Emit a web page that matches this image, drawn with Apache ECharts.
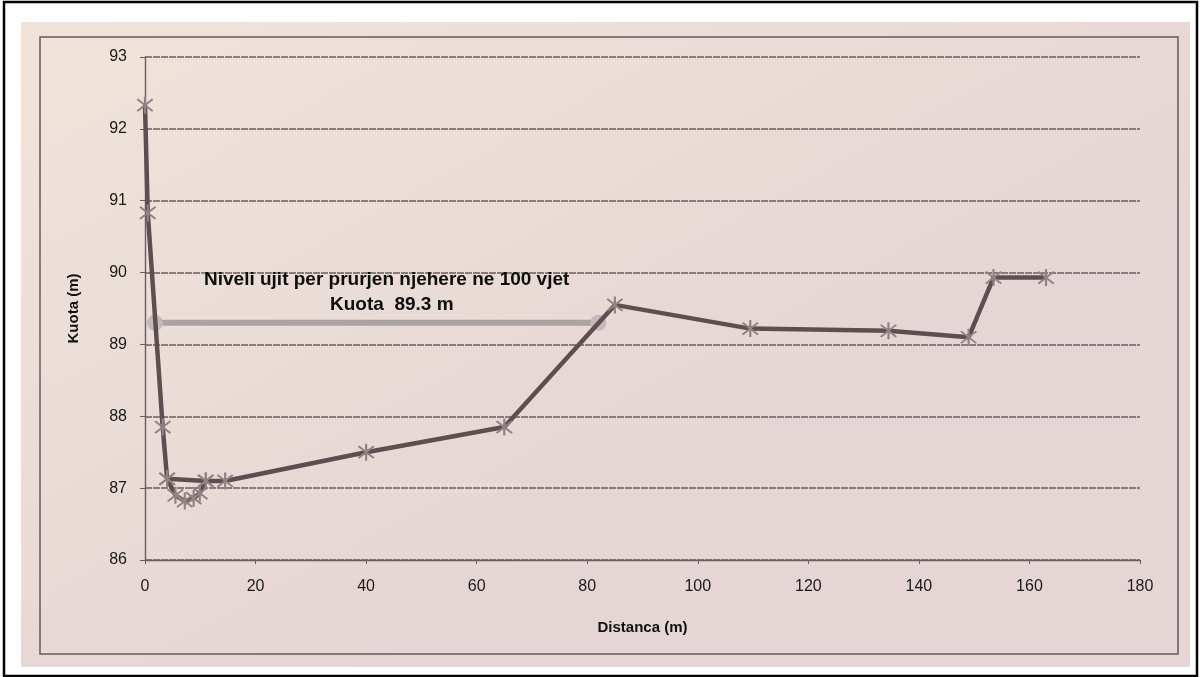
<!DOCTYPE html>
<html>
<head>
<meta charset="utf-8">
<script src="https://cdn.jsdelivr.net/npm/echarts@6/dist/echarts.min.js"></script>
<style>
  html, body { margin: 0; padding: 0; background: #ffffff; }
  #chart { width: 1200px; height: 677px; }
</style>
</head>
<body>
<div id="chart"></div>
<script>
// profili i terrenit (distanca, kuota)
const profileX = [0, 0.5, 3.2, 4, 11, 14.5, 40, 65, 85, 109.5, 134.5, 149, 153.5, 163];
const profileY = [92.33, 90.83, 87.85, 87.13, 87.1, 87.1, 87.5, 87.85, 89.55, 89.22, 89.19, 89.1, 89.93, 89.93];

// pjesa e thelle e shtratit
const bedX = [4, 5.5, 7.2, 8.8, 9.9, 11];
const bedY = [87.13, 86.9, 86.82, 86.86, 86.93, 87.1];

// niveli i ujit 100 vjecar
const waterX = [1.8, 82];
const waterY = [89.3, 89.3];

const xTicks = [0, 20, 40, 60, 80, 100, 120, 140, 160, 180];
const yTicks = [86, 87, 88, 89, 90, 91, 92, 93];

const zip = (xs, ys) => xs.map((x, i) => [x, ys[i]]);

// asterisk marker (x + vertical bar)
const starPath = 'path://M-1,-10L1,-10L1,10L-1,10Z' +
  'M7.78,6.36L6.36,7.78L-7.78,-6.36L-6.36,-7.78Z' +
  'M6.36,-7.78L7.78,-6.36L-6.36,7.78L-7.78,6.36Z';

const chart = echarts.init(document.getElementById('chart'));

const lineColor = '#5f4e51';
const gridColor = '#6a5d60';
const font = '"Liberation Sans", Arial, sans-serif';

const profileSeries = (data) => ({
  type: 'line',
  data: data,
  symbol: starPath,
  symbolSize: 17,
  showAllSymbol: true,
  lineStyle: { color: lineColor, width: 4.5 },
  itemStyle: { color: '#8f8384' },
  z: 3
});

chart.setOption({
  backgroundColor: '#ffffff',
  animation: false,
  graphic: [
    {
      type: 'rect', z: -10, silent: true,
      shape: { x: 21, y: 22, width: 1169, height: 645 },
      style: {
        fill: new echarts.graphic.LinearGradient(0, 0, 0.3, 1, [
          { offset: 0, color: '#f0e4da' },
          { offset: 1, color: '#e5d5d4' }
        ])
      }
    },
    {
      type: 'rect', z: -9, silent: true,
      shape: { x: 40, y: 37, width: 1138, height: 617 },
      style: { fill: 'none', stroke: '#655a5c', lineWidth: 1.5 }
    },
    {
      type: 'rect', z: -8, silent: true,
      shape: { x: 4, y: 2, width: 1193, height: 674 },
      style: { fill: 'none', stroke: '#000000', lineWidth: 2.5 }
    },
    {
      type: 'text', left: 204, top: 270, z: 10,
      style: {
        text: 'Niveli ujit per prurjen njehere ne 100 vjet',
        font: 'bold 19px ' + font, fill: '#0d0d0d'
      }
    },
    {
      type: 'text', left: 330, top: 295, z: 10,
      style: {
        text: 'Kuota  89.3 m',
        font: 'bold 19px ' + font, fill: '#0d0d0d'
      }
    }
  ],
  grid: { left: 145, right: 60, top: 57, bottom: 117 },
  xAxis: {
    type: 'value',
    min: xTicks[0],
    max: xTicks[xTicks.length - 1],
    interval: 20,
    name: 'Distanca (m)',
    nameLocation: 'middle',
    nameGap: 60,
    nameTextStyle: { fontFamily: font, fontSize: 15, fontWeight: 'bold', color: '#111' },
    axisLine: { onZero: false, lineStyle: { color: gridColor, width: 1.4 } },
    axisTick: { show: true, length: 4, inside: false, lineStyle: { color: gridColor } },
    axisLabel: { margin: 19, fontFamily: font, fontSize: 16, color: '#1a1a1a' },
    splitLine: { show: false }
  },
  yAxis: {
    type: 'value',
    min: yTicks[0],
    max: yTicks[yTicks.length - 1],
    interval: 1,
    name: 'Kuota (m)',
    nameLocation: 'middle',
    nameGap: 64,
    nameRotate: 90,
    nameTextStyle: { fontFamily: font, fontSize: 15, fontWeight: 'bold', color: '#111' },
    axisLine: { show: true, lineStyle: { color: gridColor, width: 1.4 } },
    axisTick: { show: true, length: 5, lineStyle: { color: gridColor } },
    axisLabel: { margin: 18, fontFamily: font, fontSize: 16, color: '#1a1a1a' },
    splitLine: { show: true, lineStyle: { color: gridColor, width: 1.5, type: [7, 1] } }
  },
  series: [
    {
      type: 'line',
      data: zip(waterX, waterY),
      symbol: 'circle',
      symbolSize: 16,
      lineStyle: { color: '#aba2a1', width: 6 },
      itemStyle: { color: '#c2bab8' },
      z: 2
    },
    profileSeries(zip(bedX, bedY)),
    profileSeries(zip(profileX, profileY))
  ]
});
</script>
</body>
</html>
